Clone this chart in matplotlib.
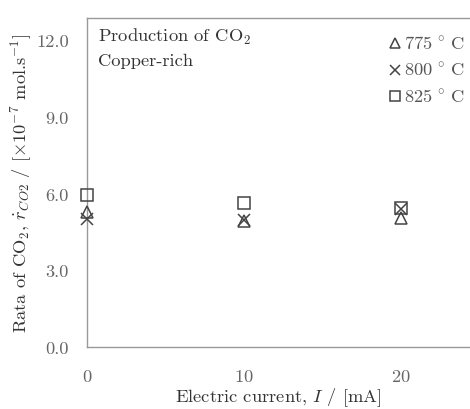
import matplotlib
matplotlib.use("Agg")
import matplotlib.pyplot as plt

plt.rcParams.update({
    "font.family": "serif",
    "font.serif": ["cmr10", "DejaVu Serif"],
    "mathtext.fontset": "cm",
    "axes.formatter.use_mathtext": True,
    "axes.unicode_minus": False,
})

# Electric current [mA] and CO2 production rate [x1e-7 mol/s]
current = [0, 10, 20]
rate_775 = [5.27, 4.92, 5.02]
rate_800 = [4.98, 4.95, 5.40]
rate_825 = [5.95, 5.62, 5.42]

series = [
    (rate_775, "^", r"775$\,^\circ\,$C"),
    (rate_800, "x", r"800$\,^\circ\,$C"),
    (rate_825, "s", r"825$\,^\circ\,$C"),
]

yticks = [0.0, 3.0, 6.0, 9.0, 12.0]
xticks = [0, 10, 20]

fs = 13.3

fig = plt.figure(figsize=(4.7, 4.1), dpi=100)
ax = fig.add_axes([0.185, 0.151, 0.815, 0.803])

mcol = "#444444"
for vals, mk, lab in series:
    ax.plot(current, vals, linestyle="none", marker=mk, markersize=8,
            markerfacecolor="none", markeredgecolor=mcol,
            markeredgewidth=1.1, label=lab, clip_on=False, zorder=3)

ax.set_xlim(0, 24.4)
ax.set_ylim(0, 12.85)
ax.set_xticks(xticks)
ax.set_yticks(yticks)
ax.set_yticklabels([f"{v:.1f}" for v in yticks])
ax.tick_params(length=0, labelsize=fs, labelcolor="#666666")
ax.tick_params(axis="y", pad=13)
ax.tick_params(axis="x", pad=15)

for side in ["left", "top", "bottom"]:
    ax.spines[side].set_color("#999999")
    ax.spines[side].set_linewidth(1.0)
ax.spines["right"].set_visible(False)

ax.set_xlabel(r"Electric current, $I$ / [mA]", fontsize=fs, color="#333333", labelpad=1)
ax.set_ylabel(r"Rata of CO$_2$, $\dot{r}_{CO2}$ / [$\times$10$^{\mathregular{-7}}$ mol.s$^{\mathregular{-1}}$]",
              fontsize=fs, color="#333333", labelpad=2)

ax.text(0.03, 0.975, r"Production of CO$_2$", transform=ax.transAxes,
        fontsize=fs, color="#333333", va="top", ha="left")
ax.text(0.03, 0.895, "Copper-rich", transform=ax.transAxes,
        fontsize=fs, color="#333333", va="top", ha="left")

leg = ax.legend(loc="upper right", bbox_to_anchor=(1.02, 0.99), frameon=False,
                fontsize=fs, handlelength=0.6, handletextpad=0.2,
                labelspacing=0.45, borderaxespad=0.3, markerscale=0.9)
for t in leg.get_texts():
    t.set_color("#555555")

fig.savefig("out.png", dpi=100)
